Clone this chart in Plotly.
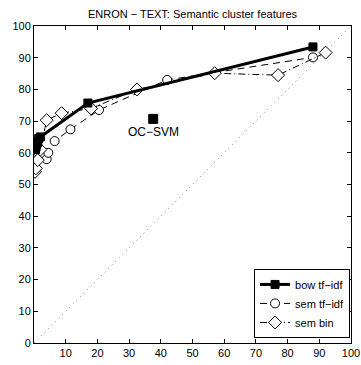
import plotly.graph_objects as go

title = "ENRON − TEXT: Semantic cluster features"

bow_x = [0.5, 0.7, 1.0, 1.2, 1.5, 2.0, 17.0, 88.0]
bow_y = [61.0, 62.0, 63.0, 63.5, 64.5, 65.0, 75.7, 93.4]

semtf_x = [0.5, 1.5, 3.0, 4.0, 4.5, 6.5, 11.5, 20.5, 42.0, 88.0]
semtf_y = [57.0, 60.0, 59.0, 58.0, 60.0, 63.7, 67.4, 73.5, 83.0, 90.1]

sembin_x = [0.3, 0.6, 1.2, 2.0, 4.0, 8.7, 18.0, 32.5, 57.0, 77.0, 92.0]
sembin_y = [54.0, 55.1, 57.7, 61.0, 70.3, 72.5, 74.0, 80.0, 85.1, 84.5, 91.6]

ocsvm_x = [37.6]
ocsvm_y = [70.7]
ocsvm_label = "OC−SVM"

diag = [0, 100]

x_ticks = [10, 20, 30, 40, 50, 60, 70, 80, 90, 100]
y_ticks = [0, 10, 20, 30, 40, 50, 60, 70, 80, 90, 100]

font = "Liberation Sans, Arial, sans-serif"

fig = go.Figure()

fig.add_trace(go.Scatter(x=diag, y=diag, mode="lines",
                         line=dict(color="#888888", width=1, dash="1px,4px"),
                         showlegend=False, hoverinfo="skip"))

fig.add_trace(go.Scatter(x=semtf_x, y=semtf_y, mode="lines+markers", name="sem tf−idf",
                         legendrank=2,
                         line=dict(color="black", width=1, dash="7px,5px"),
                         marker=dict(symbol="circle", size=9, color="white",
                                     line=dict(color="black", width=1))))

fig.add_trace(go.Scatter(x=sembin_x, y=sembin_y, mode="lines+markers", name="sem bin",
                         legendrank=3,
                         line=dict(color="black", width=1, dash="7px,3px,1px,3px"),
                         marker=dict(symbol="diamond", size=10, color="white",
                                     line=dict(color="black", width=1))))

fig.add_trace(go.Scatter(x=bow_x, y=bow_y, mode="lines+markers", name="bow tf−idf",
                         legendrank=1,
                         line=dict(color="black", width=3),
                         marker=dict(symbol="square", size=8, color="black",
                                     line=dict(color="black", width=1))))

fig.add_trace(go.Scatter(x=ocsvm_x, y=ocsvm_y, mode="markers", showlegend=False,
                         marker=dict(symbol="square", size=9, color="black",
                                     line=dict(color="black", width=1))))

fig.add_annotation(x=ocsvm_x[0], y=ocsvm_y[0], text=ocsvm_label, showarrow=False,
                   yshift=-13, font=dict(family=font, size=12, color="black"))

axis_common = dict(showline=True, linecolor="black", linewidth=1, mirror="allticks",
                   ticks="inside", ticklen=4, tickcolor="black", showgrid=False,
                   zeroline=False, automargin=False,
                   tickfont=dict(family=font, size=11, color="black"))

fig.update_xaxes(range=[0, 100], tickvals=x_ticks, **axis_common)
fig.update_yaxes(range=[0, 100], tickvals=y_ticks, **axis_common)

fig.update_layout(
    width=361, height=365,
    margin=dict(l=34, r=10, t=26, b=22, autoexpand=False),
    paper_bgcolor="white", plot_bgcolor="white",
    title=dict(text=title, x=(34 + 351) / 2 / 361, xanchor="center", y=1 - 14 / 365,
               yanchor="middle", font=dict(family=font, size=11, color="black")),
    legend=dict(x=0.997, y=0.016, xanchor="right", yanchor="bottom",
                bordercolor="black", borderwidth=1, bgcolor="white",
                font=dict(family=font, size=11, color="black"),
                traceorder="normal", tracegroupgap=0, itemwidth=30),
    showlegend=True,
)

fig.write_html("out.html")
